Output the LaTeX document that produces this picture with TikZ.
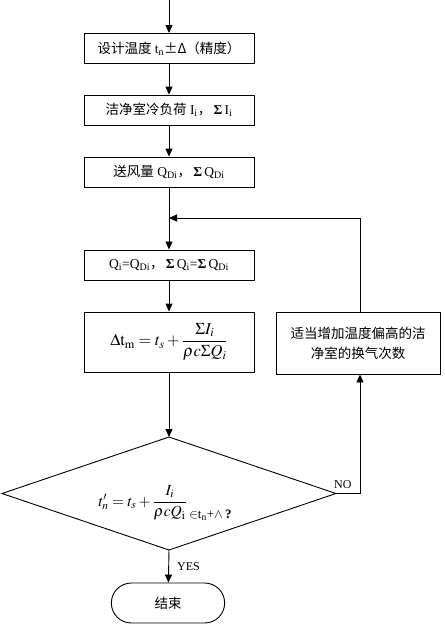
\documentclass[tikz,border=0pt]{standalone}
\usepackage{amsmath}
\usepackage{mathptmx}
\usepackage{fontspec}
\setmainfont{Liberation Serif}
\newfontfamily\cjk{Noto Sans CJK SC}
\usetikzlibrary{arrows.meta,shapes.misc}
\begin{document}
\begin{tikzpicture}[x=1pt,y=-1pt,
  font=\fontsize{13.5}{15}\selectfont,
  box/.style={draw,line width=0.9pt,minimum width=170pt,minimum height=30pt,inner sep=2pt},
  arr/.style={draw,line width=0.9pt,-{Triangle[length=8pt,width=7pt]}},
  ln/.style={draw,line width=0.9pt},
  lbl/.style={font=\fontsize{12}{14}\selectfont,inner sep=1pt}]
\useasboundingbox (0,0) rectangle (445,625);
\coordinate (start) at (169,0);
\node[box] (b1) at (169,48.5) {{\cjk 设计温度} t\textsubscript{n}{\cjk ±Δ（精度）}};
\node[box] (b2) at (169,110) {{\cjk 洁净室冷负荷} I\textsubscript{i}{\cjk ，}\,\textbf{Σ}\,I\textsubscript{i}};
\node[box] (b3) at (169,172) {{\cjk 送风量} Q\textsubscript{Di}{\cjk ，}\,\textbf{Σ}\,Q\textsubscript{Di}};
\node[box] (b4) at (169,265) {Q\textsubscript{i}=Q\textsubscript{Di}{\cjk ，}\,\textbf{Σ}\,Q\textsubscript{i}=\textbf{Σ}\,Q\textsubscript{Di}};
\node[box,minimum height=60pt,font=\fontsize{16.5}{18}\selectfont] (b5) at (169,342) {$\Delta\mathrm{t}_{\mathrm m} = t_s + \dfrac{\Sigma I_i}{\rho c\Sigma Q_i}$};
\node[box,minimum width=164pt,minimum height=62pt,align=center,font=\fontsize{13.5}{20}\selectfont\cjk] (rb) at (358,343) {适当增加温度偏高的洁\\净室的换气次数};
\coordinate (dtop) at (169,437);
\coordinate (dleft) at (2,493.5);
\coordinate (dright) at (336,493.5);
\coordinate (dbot) at (169,550);
\draw[line width=0.9pt] (dtop) -- (dright) -- (dbot) -- (dleft) -- cycle;
\node[inner sep=0pt,font=\fontsize{15.5}{17}\selectfont] (dtext) at (165,503) {$t_n' = t_s + \dfrac{I_i}{\rho c Q_{\mathrm i}}$\,\raisebox{-0.8em}{\fontsize{13}{15}\selectfont$\in$t\textsubscript{n}+$\wedge$\,\textbf{?}}};
\node[draw,line width=0.9pt,rounded rectangle,minimum width=120pt,minimum height=40pt,font=\fontsize{13.5}{15}\selectfont\cjk] (end) at (168,603) {结束};
\coordinate (fb) at (360,218);
\coordinate (fbm) at (169,218);
\coordinate (nor) at (360,493.5);
\draw[arr] (start) -- (b1);
\draw[arr] (b1) -- (b2);
\draw[arr] (b2) -- (b3);
\draw[arr] (b3) -- (b4);
\draw[arr] (b4) -- (b5);
\draw[arr] (b5) -- (dtop);
\draw[arr] (rb.north -| fb) -- (fb) -- (fbm);
\draw[arr] (dright) -- (nor) -- (rb.south -| nor);
\draw[arr] (dbot) -- (end);
\node[lbl,anchor=south west] (no) at (333,490) {NO};
\node[lbl,anchor=west] (yes) at (176,567) {YES};
\end{tikzpicture}
\end{document}
